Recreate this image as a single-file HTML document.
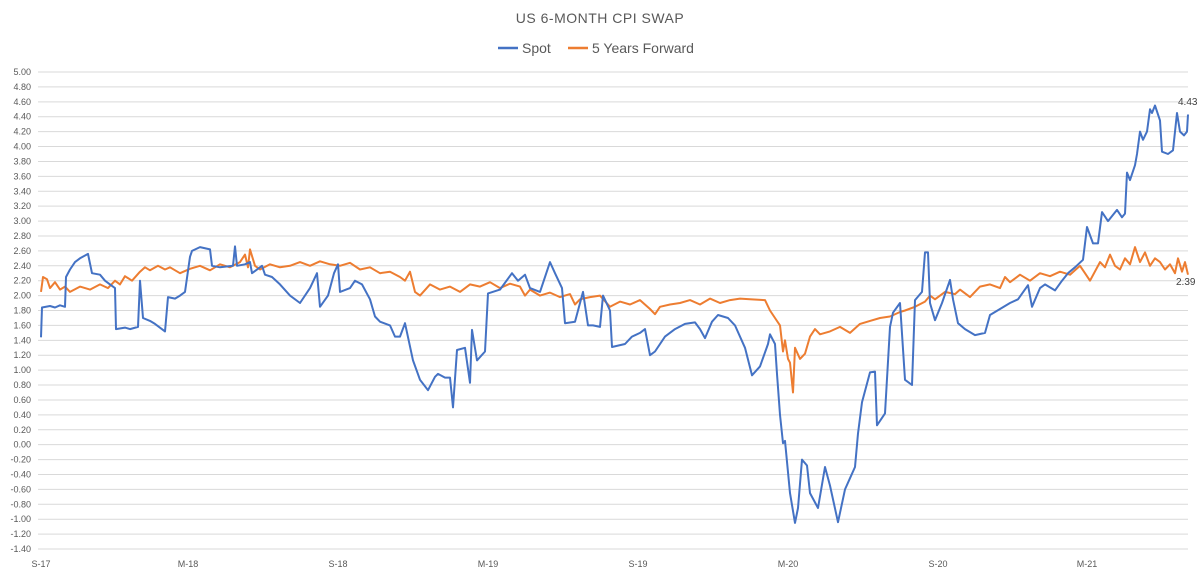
<!DOCTYPE html>
<html><head><meta charset="utf-8">
<style>
body{margin:0;background:#fff;width:1200px;height:575px;overflow:hidden;font-family:"Liberation Sans",sans-serif;}
svg text{font-family:"Liberation Sans",sans-serif;}
</style></head>
<body>
<svg id="chart" width="1200" height="575" viewBox="0 0 1200 575">
<text x="600" y="23" text-anchor="middle" font-size="14" fill="#595959" letter-spacing="0.5">US 6-MONTH CPI SWAP</text>
<g>
<g><line x1="498" y1="48" x2="518" y2="48" stroke="#4472c4" stroke-width="2.5"/><text x="522" y="53" font-size="14" fill="#595959">Spot</text></g>
<g><line x1="568" y1="48" x2="588" y2="48" stroke="#ed7d31" stroke-width="2.5"/><text x="592" y="53" font-size="14" fill="#595959">5 Years Forward</text></g>
</g>
<g id="grid"></g>
<g id="yax"></g>
<g id="xax"></g>
<g id="series"></g>
<text x="1178" y="105" font-size="10" fill="#404040">4.43</text>
<text x="1176" y="285" font-size="10" fill="#404040">2.39</text>
</svg>
<script>
const yTicks=[5,4.8,4.6,4.4,4.2,4,3.8,3.6,3.4,3.2,3,2.8,2.6,2.4,2.2,2,1.8,1.6,1.4,1.2,1,0.8,0.6,0.4,0.2,0,-0.2,-0.4,-0.6,-0.8,-1,-1.2,-1.4];
const xTickLabels=["S-17","M-18","S-18","M-19","S-19","M-20","S-20","M-21"];
const xTickDays=[41,188,338,488,638,788,938,1087];
const spotDays=[41,42,50,55,60,65,66,70,75,80,88,92,100,105,110,115,116,125,130,138,140,143,150,155,165,168,175,180,185,190,192,200,210,212,220,233,235,237,245,250,252,262,265,272,280,290,300,310,317,320,328,334,338,340,350,355,362,370,375,380,390,395,400,405,413,420,428,435,438,445,450,453,457,465,470,472,477,485,488,500,512,518,525,530,540,550,555,562,565,575,583,588,593,600,603,610,612,625,632,640,645,650,655,665,675,685,695,700,705,712,718,728,735,745,752,760,768,770,775,777,780,783,785,790,795,798,802,807,810,818,825,830,838,845,850,855,858,862,870,875,877,885,890,893,900,905,912,915,922,925,928,930,935,942,950,953,958,965,975,985,990,1000,1010,1018,1028,1032,1040,1045,1055,1062,1068,1075,1083,1087,1093,1098,1102,1108,1117,1122,1125,1127,1130,1135,1137,1140,1143,1147,1150,1152,1155,1160,1162,1168,1173,1177,1180,1184,1187,1188];
const spotValues=[1.44,1.84,1.86,1.84,1.87,1.85,2.25,2.35,2.45,2.50,2.56,2.30,2.28,2.20,2.15,2.10,1.55,1.57,1.55,1.58,2.20,1.70,1.66,1.62,1.52,1.98,1.96,2.00,2.05,2.52,2.60,2.65,2.62,2.40,2.38,2.40,2.66,2.40,2.42,2.45,2.30,2.40,2.28,2.25,2.15,2.00,1.90,2.10,2.30,1.85,2.00,2.30,2.42,2.05,2.10,2.20,2.15,1.95,1.72,1.65,1.60,1.45,1.45,1.63,1.13,0.87,0.73,0.91,0.95,0.90,0.90,0.50,1.27,1.30,0.83,1.54,1.13,1.25,2.03,2.08,2.30,2.20,2.28,2.10,2.05,2.45,2.30,2.10,1.63,1.65,2.05,1.60,1.60,1.58,2.00,1.80,1.31,1.35,1.45,1.50,1.55,1.20,1.25,1.45,1.55,1.62,1.64,1.55,1.43,1.65,1.74,1.70,1.60,1.30,0.93,1.05,1.35,1.48,1.35,0.95,0.40,0.02,0.05,-0.65,-1.05,-0.85,-0.20,-0.28,-0.65,-0.85,-0.30,-0.55,-1.04,-0.60,-0.45,-0.30,0.15,0.57,0.97,0.98,0.26,0.42,1.58,1.77,1.90,0.87,0.80,1.94,2.05,2.58,2.58,1.90,1.67,1.90,2.21,1.95,1.63,1.55,1.47,1.50,1.74,1.82,1.90,1.95,2.14,1.85,2.10,2.15,2.07,2.20,2.30,2.38,2.48,2.92,2.70,2.70,3.12,3.00,3.15,3.05,3.10,3.65,3.55,3.75,3.90,4.20,4.09,4.20,4.50,4.45,4.55,4.35,3.93,3.90,3.95,4.45,4.20,4.15,4.20,4.43];
const fwdDays=[41,43,47,50,55,60,65,70,80,90,100,108,115,120,125,132,140,145,150,158,165,170,180,190,200,210,220,230,240,245,248,250,255,260,270,280,290,300,310,320,330,340,350,360,370,380,390,400,405,410,415,420,430,440,450,460,470,480,490,500,510,520,525,530,540,550,560,570,575,580,590,600,610,620,630,640,650,655,660,670,680,690,700,710,720,730,740,750,765,770,775,780,783,785,788,790,793,795,800,805,810,815,820,830,840,850,860,870,880,890,900,905,915,925,930,935,945,955,960,970,980,990,1000,1005,1010,1020,1030,1040,1050,1060,1070,1080,1085,1090,1100,1105,1110,1115,1120,1125,1130,1135,1140,1145,1150,1155,1160,1165,1170,1175,1178,1182,1185,1188];
const fwdValues=[2.05,2.25,2.22,2.10,2.18,2.08,2.12,2.05,2.12,2.08,2.15,2.10,2.20,2.15,2.26,2.20,2.32,2.38,2.34,2.40,2.35,2.38,2.30,2.36,2.40,2.34,2.42,2.38,2.45,2.55,2.38,2.62,2.40,2.35,2.42,2.38,2.40,2.45,2.40,2.46,2.42,2.40,2.44,2.35,2.38,2.30,2.32,2.25,2.20,2.32,2.05,2.00,2.15,2.08,2.12,2.05,2.15,2.12,2.18,2.10,2.16,2.12,2.00,2.08,2.00,2.04,1.98,2.02,1.88,1.95,1.98,2.00,1.85,1.92,1.88,1.94,1.82,1.75,1.85,1.88,1.90,1.94,1.88,1.96,1.90,1.94,1.96,1.95,1.94,1.80,1.70,1.60,1.25,1.40,1.15,1.10,0.70,1.30,1.15,1.22,1.45,1.55,1.48,1.52,1.58,1.50,1.62,1.66,1.70,1.72,1.78,1.80,1.85,1.92,2.00,1.95,2.05,2.02,2.08,1.98,2.12,2.15,2.10,2.25,2.18,2.28,2.20,2.30,2.26,2.32,2.28,2.40,2.30,2.20,2.45,2.38,2.55,2.40,2.35,2.50,2.42,2.65,2.45,2.58,2.40,2.50,2.45,2.35,2.42,2.30,2.50,2.32,2.45,2.28,2.40,2.39];
const NS="http://www.w3.org/2000/svg";
const X0=41,X1=1188,Y0=72,Y1=549,V0=5,V1=-1.4;
function xs(d){return X0+(d-41)/(1188-41)*(X1-X0);}
function ys(v){return Y0+(V0-v)/(V0-V1)*(Y1-Y0);}
const grid=document.getElementById('grid'),yax=document.getElementById('yax'),xax=document.getElementById('xax'),ser=document.getElementById('series');
yTicks.forEach(v=>{
  const l=document.createElementNS(NS,'line');
  l.setAttribute('x1',38);l.setAttribute('x2',1188);l.setAttribute('y1',ys(v));l.setAttribute('y2',ys(v));
  l.setAttribute('stroke','#d9d9d9');l.setAttribute('stroke-width','1');
  
  
  grid.appendChild(l);
  const t=document.createElementNS(NS,'text');
  t.setAttribute('x',31);t.setAttribute('y',ys(v)+3);t.setAttribute('text-anchor','end');t.setAttribute('font-size','9');t.setAttribute('fill','#595959');
  t.textContent=v.toFixed(2);
  
  
  yax.appendChild(t);
});
xTickLabels.forEach((s,i)=>{
  const t=document.createElementNS(NS,'text');
  t.setAttribute('x',xs(xTickDays[i]));t.setAttribute('y',567);t.setAttribute('text-anchor','middle');t.setAttribute('font-size','9');t.setAttribute('fill','#595959');
  t.textContent=s;
  
  
  xax.appendChild(t);
});
function line(days,vals,color,name){
  const p=document.createElementNS(NS,'polyline');
  p.setAttribute('points',days.map((d,i)=>xs(d).toFixed(1)+','+ys(vals[i]).toFixed(1)).join(' '));
  p.setAttribute('fill','none');p.setAttribute('stroke',color);p.setAttribute('stroke-width','2');p.setAttribute('stroke-linejoin','round');
  
  
  ser.appendChild(p);
}
line(fwdDays,fwdValues,'#ed7d31','forward-5y-line');
line(spotDays,spotValues,'#4472c4','spot-line');
</script>
</body></html>
